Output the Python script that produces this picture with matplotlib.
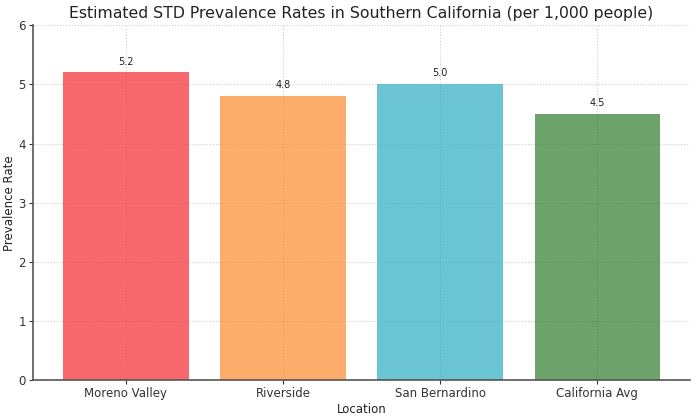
import matplotlib
matplotlib.use("Agg")
import matplotlib.pyplot as plt

# data
locations = ['Moreno Valley', 'Riverside', 'San Bernardino', 'California Avg']
rates = [5.2, 4.8, 5.0, 4.5]
colors = ['#F62A30', '#FC8B2C', '#2DACBF', '#2D7C2D']

fig, ax = plt.subplots(figsize=(7, 4.18), dpi=100)

bars = ax.bar(locations, rates, color=colors, alpha=0.7, width=0.8, zorder=2)

for b, v in zip(bars, rates):
    ax.text(b.get_x() + b.get_width() / 2, v + 0.1, f'{v:.1f}',
            ha='center', va='bottom', fontsize=7, color='#222222')

ax.set_ylim(0, 6)
ax.set_title('Estimated STD Prevalence Rates in Southern California (per 1,000 people)',
             fontsize=11.3, color='#222222', pad=5)
ax.set_xlabel('Location', fontsize=8.5, color='#222222', labelpad=2)
ax.set_ylabel('Prevalence Rate', fontsize=8.5, color='#222222', labelpad=2)
ax.tick_params(labelsize=8.5, colors='#333333', length=3, pad=2)

ax.grid(True, linestyle=':', color='#cccccc', linewidth=0.8, zorder=0)
ax.set_axisbelow(True)
for s in ['top', 'right']:
    ax.spines[s].set_visible(False)
for s in ['left', 'bottom']:
    ax.spines[s].set_color('#555555')
    ax.spines[s].set_linewidth(1.2)

plt.subplots_adjust(left=0.047, right=0.986, top=0.94, bottom=0.09)
plt.savefig('out.png')
